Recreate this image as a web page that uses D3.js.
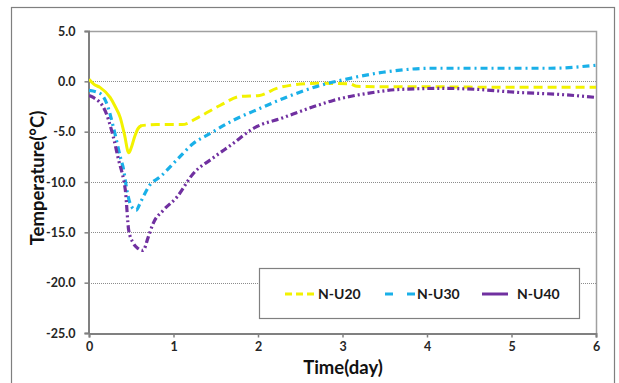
<!DOCTYPE html>
<html>
<head>
<meta charset="utf-8">
<script src="https://cdn.jsdelivr.net/npm/d3@7"></script>
<style>
  body { margin: 0; background: #fff; }
  svg text { font-family: Lato, "Open Sans", sans-serif; font-weight: bold; }
</style>
</head>
<body>
<div id="chart"></div>
<script>
// data: time in days, temperature in degrees C
var seriesNames = ["N-U20", "N-U30", "N-U40"];
var xTicks = [0, 1, 2, 3, 4, 5, 6];
var yTicks = [5, 0, -5, -10, -15, -20, -25];

var timeU20 = [0, 0.06, 0.13, 0.25, 0.31, 0.37, 0.42, 0.47, 0.5, 0.54, 0.58, 0.62, 0.8, 1.1, 1.31, 1.55, 1.79, 2.02, 2.22, 2.38, 2.7, 3.09, 3.17, 3.6, 4.2, 4.8, 5.4, 6];
var tempU20 = [0.2, -0.3, -0.6, -1.6, -2.5, -3.6, -5.3, -7.1, -6.6, -5.5, -4.7, -4.4, -4.3, -4.3, -3.5, -2.4, -1.5, -1.4, -0.7, -0.4, -0.2, -0.25, -0.5, -0.55, -0.55, -0.6, -0.6, -0.6];

var timeU30 = [0, 0.13, 0.21, 0.29, 0.37, 0.41, 0.45, 0.5, 0.56, 0.6, 0.64, 0.72, 0.84, 1.04, 1.23, 1.43, 1.7, 2.02, 2.3, 2.7, 3.09, 3.48, 4.07, 4.86, 5.46, 6];
var tempU30 = [-0.9, -1.2, -2.2, -4.6, -7.5, -8.8, -10.9, -12.4, -12.8, -12.2, -11.5, -10.3, -9.5, -7.8, -6.2, -5.2, -3.9, -2.7, -1.7, -0.5, 0.3, 0.9, 1.3, 1.3, 1.3, 1.6];

var timeU40 = [0, 0.05, 0.19, 0.29, 0.35, 0.41, 0.43, 0.47, 0.52, 0.58, 0.64, 0.7, 0.76, 0.88, 1.04, 1.23, 1.47, 1.7, 1.94, 2.3, 2.7, 2.89, 3.29, 3.68, 4.19, 4.59, 5.07, 5.57, 6];
var tempU40 = [-1.4, -1.6, -2.9, -5.6, -7.8, -9.8, -10.8, -14.8, -16.0, -16.6, -16.8, -15.5, -14.1, -12.8, -11.5, -9.2, -7.6, -6.2, -4.7, -3.6, -2.4, -1.9, -1.2, -0.8, -0.7, -0.8, -1.1, -1.3, -1.6];

var colors = ["#f2f200", "#1ab0e8", "#7030a0"];
var dashes = ["9,5", "7,4,2,4", "7,3,2,3,2,3"];

var w = 619, h = 383;
var margin = {left: 89, top: 31, right: 23, bottom: 50};

var svg = d3.select("#chart").append("svg")
  .attr("width", w)
  .attr("height", h);

// outer chart frame
svg.append("rect")
  .attr("x", 11.5).attr("y", 7.5)
  .attr("width", 603).attr("height", 390)
  .attr("fill", "#fff")
  .attr("stroke", "#7f7f7f")
  .attr("stroke-width", 1.2);

var x = d3.scaleLinear().domain([0, 6]).range([margin.left, w - margin.right]);
var y = d3.scaleLinear().domain([-25, 5]).range([h - margin.bottom, margin.top]);

// grid lines
svg.append("g").selectAll("line")
  .data(yTicks.filter(function(d) { return d > -25 && d < 5; }))
  .enter().append("line")
  .attr("x1", x(0)).attr("x2", x(6))
  .attr("y1", function(d) { return Math.round(y(d)) + 0.5; })
  .attr("y2", function(d) { return Math.round(y(d)) + 0.5; })
  .attr("stroke", "#8c8c8c")
  .attr("stroke-dasharray", "1,1");

// plot area top and right border
svg.append("path")
  .attr("d", "M" + x(0) + "," + (Math.round(y(5)) + 0.5) + "H" + (Math.round(x(6)) + 0.5) + "V" + y(-25))
  .attr("fill", "none")
  .attr("stroke", "#a0a0a0")
  .attr("stroke-width", 1.5);

// axes
var xAxis = svg.append("g")
  .attr("transform", "translate(0," + (Math.round(y(-25)) + 0.5) + ")")
  .call(d3.axisBottom(x).tickValues(xTicks).tickSize(4).tickPadding(5).tickFormat(d3.format("d")));
var yAxis = svg.append("g")
  .attr("transform", "translate(" + (Math.round(x(0)) - 0.5) + ",0)")
  .call(d3.axisLeft(y).tickValues(yTicks).tickSize(4).tickPadding(9).tickFormat(d3.format(".1f")));

[xAxis, yAxis].forEach(function(a) {
  a.select(".domain").attr("stroke", "#808080").attr("stroke-width", 2);
  a.selectAll(".tick line").attr("stroke", "#808080").attr("stroke-width", 1.5);
  a.selectAll(".tick text").attr("fill", "#262626").attr("font-size", "12.5px");
});
yAxis.selectAll(".tick text").text(function(d) { return d3.format(".1f")(d).replace("−", "-"); });

// axis titles
svg.append("text")
  .attr("x", 343).attr("y", 374)
  .attr("text-anchor", "middle")
  .attr("font-size", "18.5px")
  .attr("fill", "#111")
  .text("Time(day)");

svg.append("text")
  .attr("transform", "translate(44,178) rotate(-90)")
  .attr("text-anchor", "middle")
  .attr("font-size", "18.5px")
  .attr("fill", "#111")
  .text("Temperature(°C)");

var line = d3.line()
  .x(function(d) { return x(d[0]); })
  .y(function(d) { return y(d[1]); })
  .curve(d3.curveMonotoneX);

var series = [
  d3.zip(timeU20, tempU20),
  d3.zip(timeU30, tempU30),
  d3.zip(timeU40, tempU40)
];

svg.append("clipPath").attr("id", "plotclip")
  .append("rect")
  .attr("x", x(0)).attr("y", y(5))
  .attr("width", x(6) - x(0) + 2).attr("height", y(-25) - y(5));

var plot = svg.append("g").attr("clip-path", "url(#plotclip)");

// yellow runs solid through the early dip, dashed after
plot.append("path")
  .datum(series[0].filter(function(d) { return d[0] <= 0.62; }))
  .attr("d", line)
  .attr("fill", "none")
  .attr("stroke", colors[0])
  .attr("stroke-width", 3);
plot.append("path")
  .datum(series[0].filter(function(d) { return d[0] >= 0.58; }))
  .attr("d", line)
  .attr("fill", "none")
  .attr("stroke", colors[0])
  .attr("stroke-width", 3)
  .attr("stroke-dasharray", dashes[0]);

[1, 2].forEach(function(i) {
  plot.append("path")
    .datum(series[i])
    .attr("d", line)
    .attr("fill", "none")
    .attr("stroke", colors[i])
    .attr("stroke-width", 3.2)
    .attr("stroke-dasharray", dashes[i]);
});

// legend
var legend = svg.append("g");
legend.append("rect")
  .attr("x", 259.5).attr("y", 268.5)
  .attr("width", 320).attr("height", 50)
  .attr("fill", "#fff")
  .attr("stroke", "#808080")
  .attr("stroke-width", 1.2);

var legX = [285, 385, 482];
var legLen = [30, 30, 26];
var legText = [318, 417, 517];
var legDash = ["7,4", "8,14", null];
seriesNames.forEach(function(name, i) {
  legend.append("line")
    .attr("x1", legX[i]).attr("x2", legX[i] + legLen[i])
    .attr("y1", 294).attr("y2", 294)
    .attr("stroke", colors[i])
    .attr("stroke-width", 3)
    .attr("stroke-dasharray", legDash[i]);
  legend.append("text")
    .attr("x", legText[i]).attr("y", 299)
    .attr("font-size", "14px")
    .attr("fill", "#1a1a1a")
    .text(name);
});
</script>
</body>
</html>
